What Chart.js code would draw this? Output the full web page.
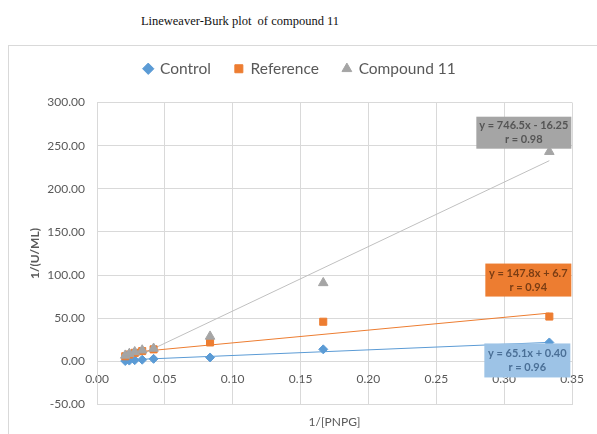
<!DOCTYPE html>
<html>
<head>
<meta charset="utf-8">
<script src="https://cdn.jsdelivr.net/npm/chart.js@4.4.1/dist/chart.umd.min.js"></script>
<style>
  body { margin: 0; background: #fff; }
  #wrap { position: relative; width: 597px; height: 434px; overflow: hidden; }
  #doc-title {
    position: absolute; left: 0; top: 14px; width: 480px; text-align: center;
    font-family: "Liberation Serif", serif; font-size: 12.5px; line-height: 14px; color: #111;
    white-space: pre;
  }
  #frame {
    position: absolute; left: 8px; top: 45px; width: 620px; height: 420px;
    border: 1px solid #d9d9d9;
  }
  #chart { position: absolute; left: 0; top: 0; }
</style>
</head>
<body>
<div id="wrap">
  <div id="doc-title">Lineweaver-Burk plot  of compound 11</div>
  <div id="frame"></div>
  <canvas id="chart" width="597" height="434"></canvas>
</div>
<script>
// datos
const invPnpg = [0.0208, 0.0238, 0.0278, 0.0333, 0.0417, 0.0833, 0.1667, 0.3333];
const control = [0.5, 1.0, 1.5, 2.0, 3.0, 4.6, 14, 22];
const reference = [6, 8, 10, 12, 14, 22, 46, 52];
const compound11 = [7, 9, 11, 13, 15, 29, 91, 243];

// extremos de las lineas de tendencia
const fitX = [0.0208, 0.3333];
const controlFit = [1.75, 22.1];
const referenceFit = [9.8, 56];
const compoundFit = [-0.7, 232.6];

const seriesNames = ["Control", "Reference", "Compound 11"];
const fitLabels = [
  ["y = 65.1x + 0.40", "r = 0.96"],
  ["y = 147.8x + 6.7", "r = 0.94"],
  ["y = 746.5x - 16.25", "r = 0.98"],
];
const xTicks = [0, 0.05, 0.1, 0.15, 0.2, 0.25, 0.3, 0.35];

const BLUE = "#5b9bd5";
const ORANGE = "#ed7d31";
const GRAY = "#a5a5a5";
const TEXT = "#595959";
const GRID = "#d9d9d9";

const toPoints = (xs, ys) => xs.map((x, i) => ({ x: x, y: ys[i] }));

// cajas de ecuacion (posicion relativa al ultimo punto)
const boxStyles = [
  { dx: -65, dy: 1, w: 86, h: 34, fill: "#9dc3e6", color: "#4a6f96" },
  { dx: -64, dy: -53, w: 86, h: 33, fill: ORANGE, color: "#7a3d14" },
  { dx: -73, dy: -35, w: 95, h: 32, fill: GRAY, color: "#555555" },
];

const fitBoxes = {
  id: "fitBoxes",
  afterDatasetsDraw(chart) {
    const ctx = chart.ctx;
    ctx.save();
    for (let i = 0; i < 3; i++) {
      const meta = chart.getDatasetMeta(i);
      const pt = meta.data[meta.data.length - 1];
      const s = boxStyles[i];
      const left = pt.x + s.dx;
      const top = pt.y + s.dy;
      ctx.fillStyle = s.fill;
      ctx.fillRect(left, top, s.w, s.h);
      ctx.fillStyle = s.color;
      ctx.font = "bold 11px Lato";
      ctx.textAlign = "center";
      ctx.textBaseline = "middle";
      ctx.fillText(fitLabels[i][0], left + s.w / 2, top + s.h / 2 - 7);
      ctx.fillText(fitLabels[i][1], left + s.w / 2, top + s.h / 2 + 7);
    }
    ctx.restore();
  },
};

// espacio extra entre leyenda y grafico
const legendGap = {
  id: "legendGap",
  beforeInit(chart) {
    const fit = chart.legend.fit;
    chart.legend.fit = function () {
      fit.bind(chart.legend)();
      this.height += 16;
    };
  },
};

Chart.defaults.font.family = "Lato";
Chart.defaults.color = TEXT;

new Chart(document.getElementById("chart"), {
  type: "scatter",
  data: {
    datasets: [
      {
        label: seriesNames[0],
        data: toPoints(invPnpg, control),
        backgroundColor: BLUE,
        borderColor: BLUE,
        pointStyle: "rectRot",
        pointRadius: 4.5,
        order: 2,
      },
      {
        label: seriesNames[1],
        data: toPoints(invPnpg, reference),
        backgroundColor: ORANGE,
        borderColor: ORANGE,
        pointStyle: "rect",
        pointRadius: 5,
        order: 1,
      },
      {
        label: seriesNames[2],
        data: toPoints(invPnpg, compound11),
        backgroundColor: GRAY,
        borderColor: GRAY,
        pointStyle: "triangle",
        pointRadius: 5.5,
        order: 0,
      },
      {
        label: "fit",
        data: toPoints(fitX, controlFit),
        showLine: true,
        borderColor: BLUE,
        borderWidth: 1,
        pointRadius: 0,
        order: 5,
      },
      {
        label: "fit",
        data: toPoints(fitX, referenceFit),
        showLine: true,
        borderColor: ORANGE,
        borderWidth: 1,
        pointRadius: 0,
        order: 5,
      },
      {
        label: "fit",
        data: toPoints(fitX, compoundFit),
        showLine: true,
        borderColor: "#c0c0c0",
        borderWidth: 1,
        pointRadius: 0,
        order: 5,
      },
    ],
  },
  options: {
    responsive: false,
    animation: false,
    layout: { padding: { top: 37, left: 28, right: 25, bottom: 5 } },
    scales: {
      x: {
        type: "linear",
        min: 0,
        max: 0.35,
        afterBuildTicks: (scale) => {
          scale.ticks = xTicks.map((v) => ({ value: v }));
        },
        ticks: { display: false },
        grid: { color: GRID, drawTicks: false },
        border: { color: GRID },
        title: {
          display: true,
          text: "1/[PNPG]",
          color: TEXT,
          font: { size: 12 },
          padding: { top: 10, bottom: 0 },
        },
      },
      x2: {
        axis: "x",
        type: "linear",
        position: { y: 0 },
        min: 0,
        max: 0.35,
        afterBuildTicks: (scale) => {
          scale.ticks = xTicks.map((v) => ({ value: v }));
        },
        grid: { display: false, drawTicks: false },
        border: { display: false },
        ticks: {
          padding: 10,
          font: { size: 12 },
          color: TEXT,
          callback: (v) => Number(v).toFixed(2),
        },
      },
      y: {
        min: -50,
        max: 300,
        ticks: {
          stepSize: 50,
          padding: 12,
          font: { size: 12 },
          color: TEXT,
          callback: (v) => Number(v).toFixed(2),
        },
        grid: { color: GRID, drawTicks: false },
        border: { color: GRID },
        title: {
          display: true,
          text: "1/(U/ML)",
          color: TEXT,
          font: { size: 12, weight: "bold" },
          padding: { top: 0, bottom: 0 },
        },
        afterFit: (scale) => {
          scale.width = 69;
        },
      },
    },
    plugins: {
      legend: {
        position: "top",
        labels: {
          usePointStyle: true,
          boxWidth: 8,
          boxHeight: 8,
          padding: 24,
          color: TEXT,
          font: { size: 15.5 },
          filter: (item) => item.text !== "fit",
          sort: (a, b) => a.datasetIndex - b.datasetIndex,
        },
      },
      tooltip: { enabled: false },
    },
  },
  plugins: [fitBoxes, legendGap],
});
</script>
</body>
</html>
